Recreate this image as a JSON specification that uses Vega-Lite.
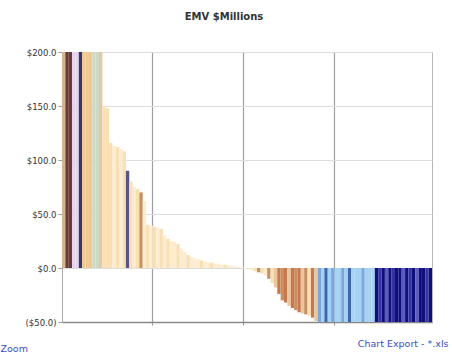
{
  "$schema": "https://vega.github.io/schema/vega-lite/v6.json",
  "width": 370,
  "height": 270,
  "autosize": {"type": "none"},
  "padding": {"left": 62, "top": 52, "right": 20, "bottom": 39},
  "background": "#ffffff",
  "title": {"text": "EMV $Millions", "anchor": "middle", "frame": "bounds", "fontSize": 10, "font": "DejaVu Sans", "fontWeight": "bold", "color": "#333333", "offset": 26},
  "config": {
    "view": {"stroke": "#b8b8b8", "strokeWidth": 1},
    "font": "DejaVu Sans"
  },
  "data": {"values": [
    {"i": 0, "v": 520, "g": "g1"}, {"i": 1, "v": 470, "g": "g2"}, {"i": 2, "v": 430, "g": "g2"},
    {"i": 3, "v": 400, "g": "g3"}, {"i": 4, "v": 370, "g": "g3"}, {"i": 5, "v": 340, "g": "g4"},
    {"i": 6, "v": 320, "g": "g5"}, {"i": 7, "v": 300, "g": "g5"}, {"i": 8, "v": 280, "g": "g5"},
    {"i": 9, "v": 260, "g": "g6"}, {"i": 10, "v": 240, "g": "g6"}, {"i": 11, "v": 215, "g": "g7"},
    {"i": 12, "v": 150, "g": "g8"}, {"i": 13, "v": 148, "g": "g8"}, {"i": 14, "v": 116, "g": "g8"},
    {"i": 15, "v": 113, "g": "g9"}, {"i": 16, "v": 112, "g": "g8"}, {"i": 17, "v": 110, "g": "g9"},
    {"i": 18, "v": 108, "g": "g8"}, {"i": 19, "v": 90, "g": "g10"}, {"i": 20, "v": 80, "g": "g8"},
    {"i": 21, "v": 75, "g": "g9"}, {"i": 22, "v": 73, "g": "g8"}, {"i": 23, "v": 70, "g": "g11"},
    {"i": 24, "v": 62, "g": "g9"}, {"i": 25, "v": 40, "g": "g8"}, {"i": 26, "v": 39, "g": "g9"},
    {"i": 27, "v": 38, "g": "g8"}, {"i": 28, "v": 37, "g": "g9"}, {"i": 29, "v": 36, "g": "g8"},
    {"i": 30, "v": 30, "g": "g9"}, {"i": 31, "v": 27, "g": "g8"}, {"i": 32, "v": 25, "g": "g9"},
    {"i": 33, "v": 24, "g": "g9"}, {"i": 34, "v": 22, "g": "g8"}, {"i": 35, "v": 18, "g": "g9"},
    {"i": 36, "v": 15, "g": "g9"}, {"i": 37, "v": 12, "g": "g8"}, {"i": 38, "v": 10, "g": "g9"},
    {"i": 39, "v": 9, "g": "g9"}, {"i": 40, "v": 8, "g": "g9"}, {"i": 41, "v": 7, "g": "g8"},
    {"i": 42, "v": 6, "g": "g9"}, {"i": 43, "v": 5, "g": "g9"}, {"i": 44, "v": 5, "g": "g8"},
    {"i": 45, "v": 4, "g": "g9"}, {"i": 46, "v": 4, "g": "g9"}, {"i": 47, "v": 3, "g": "g9"},
    {"i": 48, "v": 3, "g": "g8"}, {"i": 49, "v": 2, "g": "g9"}, {"i": 50, "v": 2, "g": "g9"},
    {"i": 51, "v": 1.5, "g": "g9"}, {"i": 52, "v": 1, "g": "g9"}, {"i": 53, "v": 0.5, "g": "g9"},
    {"i": 54, "v": -0.5, "g": "g9"}, {"i": 55, "v": -1, "g": "g8"}, {"i": 56, "v": -2, "g": "g9"},
    {"i": 57, "v": -3, "g": "g8"}, {"i": 58, "v": -4, "g": "g11"}, {"i": 59, "v": -5, "g": "g8"},
    {"i": 60, "v": -7, "g": "g9"}, {"i": 61, "v": -10, "g": "g11"}, {"i": 62, "v": -14, "g": "g8"},
    {"i": 63, "v": -18, "g": "g7"}, {"i": 64, "v": -24, "g": "g12"}, {"i": 65, "v": -30, "g": "g11"},
    {"i": 66, "v": -32, "g": "g12"}, {"i": 67, "v": -35, "g": "g7"}, {"i": 68, "v": -37, "g": "g12"},
    {"i": 69, "v": -39, "g": "g11"}, {"i": 70, "v": -41, "g": "g12"}, {"i": 71, "v": -42, "g": "g7"},
    {"i": 72, "v": -43, "g": "g11"}, {"i": 73, "v": -44, "g": "g8"}, {"i": 74, "v": -46, "g": "g12"},
    {"i": 75, "v": -49, "g": "g7"},
    {"i": 76, "v": -55, "g": "g14"}, {"i": 77, "v": -58, "g": "g13"}, {"i": 78, "v": -62, "g": "g17"},
    {"i": 79, "v": -66, "g": "g13"}, {"i": 80, "v": -70, "g": "g14"}, {"i": 81, "v": -74, "g": "g13"},
    {"i": 82, "v": -78, "g": "g13"}, {"i": 83, "v": -82, "g": "g14"}, {"i": 84, "v": -86, "g": "g13"},
    {"i": 85, "v": -90, "g": "g17"}, {"i": 86, "v": -95, "g": "g13"}, {"i": 87, "v": -100, "g": "g13"},
    {"i": 88, "v": -105, "g": "g13"}, {"i": 89, "v": -110, "g": "g14"}, {"i": 90, "v": -115, "g": "g13"},
    {"i": 91, "v": -120, "g": "g13"}, {"i": 92, "v": -125, "g": "g13"},
    {"i": 93, "v": -130, "g": "g15"}, {"i": 94, "v": -135, "g": "g16"}, {"i": 95, "v": -140, "g": "g15"},
    {"i": 96, "v": -145, "g": "g18"}, {"i": 97, "v": -150, "g": "g15"}, {"i": 98, "v": -155, "g": "g16"},
    {"i": 99, "v": -160, "g": "g15"}, {"i": 100, "v": -165, "g": "g15"}, {"i": 101, "v": -170, "g": "g18"},
    {"i": 102, "v": -175, "g": "g15"}, {"i": 103, "v": -180, "g": "g16"}, {"i": 104, "v": -185, "g": "g15"},
    {"i": 105, "v": -190, "g": "g18"}, {"i": 106, "v": -195, "g": "g15"}, {"i": 107, "v": -200, "g": "g15"},
    {"i": 108, "v": -210, "g": "g16"}, {"i": 109, "v": -220, "g": "g15"}
  ]},
  "mark": {"type": "bar", "clip": true},
  "encoding": {
    "x": {
      "field": "i", "type": "ordinal", "sort": "ascending",
      "scale": {"paddingInner": 0, "paddingOuter": 0},
      "axis": {
        "values": [27, 54, 81], "bandPosition": 0, "labels": false,
        "grid": true, "gridColor": "#a0a0a0", "gridWidth": 1.2,
        "ticks": true, "tickSize": 3, "tickColor": "#999999",
        "domain": true, "domainColor": "#888888", "domainWidth": 1.5,
        "title": "Chart Export - *.xls", "titleAnchor": "end", "titleAlign": "right",
        "titleX": 386, "titlePadding": 13, "titleColor": "#3a4ccc",
        "titleFontSize": 9.5, "titleFontWeight": "normal", "titleFont": "DejaVu Sans"
      }
    },
    "y": {
      "field": "v", "type": "quantitative",
      "scale": {"domain": [-50, 200], "nice": false, "zero": false},
      "axis": {
        "values": [-50, 0, 50, 100, 150, 200],
        "labelExpr": "datum.value < 0 ? '($' + format(-datum.value, ',.1f') + ')' : '$' + format(datum.value, ',.1f')",
        "labelFontSize": 8.5, "labelColor": "#333333", "labelPadding": 2,
        "grid": true, "gridColor": "#dddddd",
        "ticks": true, "tickSize": 4, "tickColor": "#999999",
        "domain": true, "domainColor": "#aaaaaa",
        "title": "Zoom", "titleAngle": 0, "titleX": -62, "titleY": 296,
        "titleAlign": "left", "titleBaseline": "middle",
        "titleColor": "#3a4ccc", "titleFontSize": 9.5, "titleFontWeight": "normal"
      }
    },
    "color": {
      "field": "g", "type": "nominal", "legend": null,
      "scale": {
        "domain": ["g1","g2","g3","g4","g5","g6","g7","g8","g9","g10","g11","g12","g13","g14","g15","g16","g17","g18"],
        "range": ["#d4b48c","#6b3a3a","#e4d4ee","#353568","#f2c88c","#ccdac8","#e6c8a0","#f9dfb2","#fdecd0","#55558c","#c89060","#c8784a","#a6d2f2","#7aa8dc","#10107a","#3434a8","#3c68b0","#5c5cc0"]
      }
    }
  }
}
